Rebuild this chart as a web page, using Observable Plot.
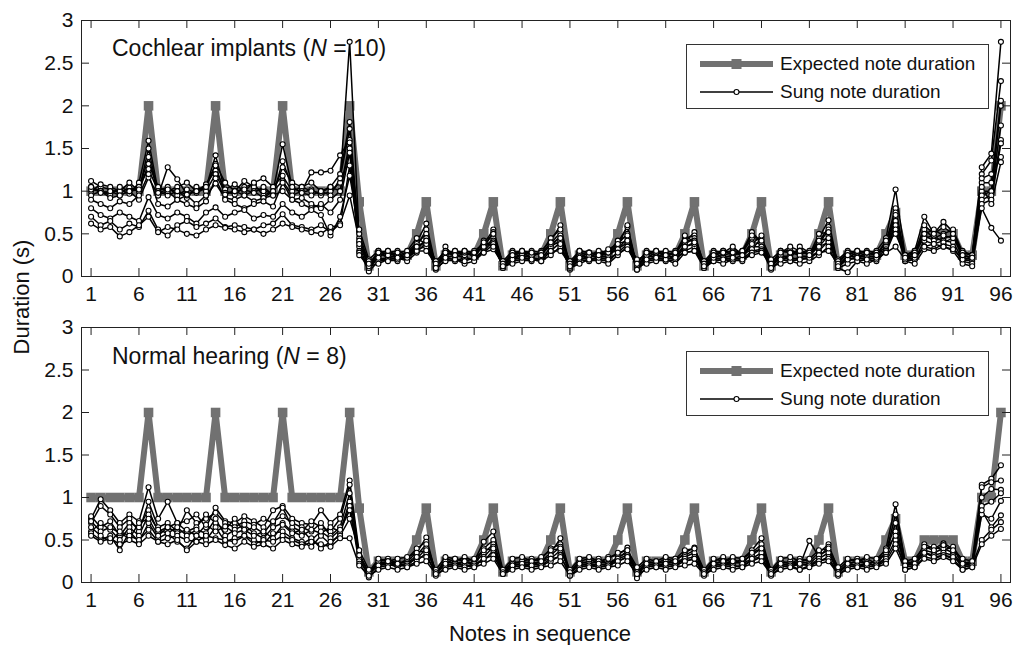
<!DOCTYPE html>
<html><head><meta charset="utf-8">
<script src="https://cdn.jsdelivr.net/npm/d3@7"></script>
<script src="https://cdn.jsdelivr.net/npm/@observablehq/plot@0.6"></script>
<style>
body{margin:0;background:#fff;font-family:"Liberation Sans",Arial,sans-serif;color:#111;}
#wrap{position:relative;width:1014px;height:645px;overflow:hidden;}
.panel{position:absolute;left:0;}
.lbl{position:absolute;font-size:23px;line-height:26px;white-space:nowrap;}
.legend{position:absolute;border:1px solid #333;background:#fff;box-sizing:border-box;}
.legend .row{position:absolute;left:13px;height:20px;display:flex;align-items:center;font-size:19px;white-space:nowrap;}
.legend svg{margin-right:7px;}
</style>
</head><body>
<div id="wrap"></div>
<script>
// ---------------- data ----------------
const notes = d3.range(1, 97);
const xTicks = [1,6,11,16,21,26,31,36,41,46,51,56,61,66,71,76,81,86,91,96];
const yTicks = [0,0.5,1,1.5,2,2.5,3];

const expected = [1,1,1,1,1,1,2,1,1,1,1,1,1,2,1,1,1,1,1,1,2,1,1,1,1,1,1,2,0.875,0.125,
0.25,0.25,0.25,0.25,0.5,0.875,0.125,
0.25,0.25,0.25,0.25,0.5,0.875,0.125,
0.25,0.25,0.25,0.25,0.5,0.875,0.125,
0.25,0.25,0.25,0.25,0.5,0.875,0.125,
0.25,0.25,0.25,0.25,0.5,0.875,0.125,
0.25,0.25,0.25,0.25,0.5,0.875,0.125,
0.25,0.25,0.25,0.25,0.5,0.875,0.125,
0.25,0.25,0.25,0.25,0.5,0.75,0.25,0.25,0.5,0.5,0.5,0.5,0.25,0.25,
1,1,2];

// Cochlear implant participants (N = 10)
const ci1 = [1.05,1.00,0.98,1.02,0.97,1.10,1.59,1.00,1.05,0.95,1.02,0.98,1.04,1.42,1.00,0.96,1.05,1.08,0.95,1.00,1.55,1.05,0.98,1.02,0.95,1.00,1.10,2.75,0.45,0.12,
0.30,0.25,0.22,0.28,0.40,0.62,0.12, 0.28,0.25,0.30,0.22,0.38,0.55,0.15, 0.25,0.28,0.22,0.30,0.42,0.60,0.12, 0.25,0.22,0.28,0.25,0.40,0.58,0.10,
0.28,0.25,0.22,0.30,0.40,0.52,0.12, 0.25,0.30,0.25,0.28,0.45,0.42,0.15, 0.28,0.32,0.25,0.22,0.45,0.66,0.12,
0.22,0.28,0.25,0.30,0.45,1.02,0.25,0.30,0.70,0.50,0.64,0.52,0.25,0.22, 1.28,1.44,2.75];
const ci2 = [1.12,1.05,1.02,0.98,1.04,1.00,1.50,0.95,1.28,1.14,0.96,1.00,1.06,1.32,1.10,1.00,1.12,1.05,1.00,0.98,1.28,1.10,1.05,1.00,0.98,1.05,1.20,1.81,0.40,0.10,
0.22,0.30,0.25,0.20,0.35,0.55,0.10, 0.35,0.22,0.28,0.25,0.42,0.48,0.12, 0.22,0.25,0.28,0.25,0.38,0.52,0.15, 0.28,0.25,0.22,0.30,0.35,0.60,0.12,
0.25,0.22,0.28,0.25,0.45,0.48,0.15, 0.28,0.22,0.25,0.30,0.52,0.40,0.12, 0.25,0.22,0.35,0.28,0.40,0.58,0.10,
0.25,0.22,0.28,0.25,0.40,0.80,0.22,0.28,0.55,0.45,0.50,0.55,0.28,0.25, 1.20,1.36,2.29];
const ci3 = [1.00,1.08,1.05,1.00,1.10,1.00,1.32,1.05,1.00,1.05,1.10,1.00,1.08,1.24,1.02,1.08,1.00,1.10,1.15,1.05,1.18,1.00,1.05,1.10,1.00,0.95,1.15,1.73,0.35,0.08,
0.25,0.28,0.30,0.25,0.38,0.50,0.15, 0.25,0.30,0.25,0.28,0.35,0.52,0.12, 0.28,0.22,0.25,0.28,0.45,0.55,0.10, 0.22,0.28,0.25,0.22,0.38,0.50,0.15,
0.22,0.28,0.25,0.22,0.38,0.45,0.10, 0.22,0.25,0.28,0.25,0.40,0.38,0.12, 0.22,0.25,0.30,0.25,0.38,0.55,0.15,
0.28,0.25,0.22,0.25,0.35,0.75,0.20,0.25,0.48,0.42,0.45,0.48,0.22,0.20, 1.10,1.10,2.06];
const ci4 = [1.02,1.00,0.95,1.05,1.00,1.05,1.26,1.00,0.95,1.00,0.92,1.05,1.00,1.20,0.98,1.00,0.95,1.00,0.92,1.00,1.12,0.95,1.00,1.22,1.22,1.24,1.42,1.60,0.50,0.15,
0.20,0.22,0.25,0.22,0.30,0.45,0.12, 0.22,0.25,0.22,0.20,0.32,0.45,0.10, 0.20,0.25,0.22,0.20,0.35,0.48,0.12, 0.25,0.20,0.22,0.25,0.32,0.45,0.10,
0.20,0.22,0.25,0.20,0.35,0.40,0.12, 0.20,0.22,0.20,0.25,0.35,0.35,0.10, 0.25,0.20,0.22,0.25,0.35,0.48,0.12,
0.20,0.22,0.25,0.22,0.32,0.70,0.22,0.20,0.42,0.38,0.42,0.40,0.20,0.18, 1.00,1.00,2.00];
const ci5 = [0.95,1.00,0.92,0.95,1.00,0.90,1.16,0.95,1.00,0.90,0.95,0.85,0.95,1.09,0.92,0.90,0.95,0.88,0.92,0.95,1.00,0.90,0.92,0.85,0.80,0.90,1.00,1.57,0.30,0.06,
0.18,0.20,0.22,0.18,0.28,0.40,0.08, 0.20,0.18,0.22,0.20,0.30,0.42,0.10, 0.18,0.20,0.18,0.22,0.30,0.40,0.08, 0.20,0.18,0.20,0.18,0.28,0.38,0.08,
0.18,0.20,0.18,0.20,0.30,0.35,0.10, 0.18,0.20,0.18,0.20,0.30,0.32,0.08, 0.20,0.18,0.20,0.22,0.30,0.42,0.10,
0.05,0.18,0.20,0.18,0.30,0.65,0.18,0.20,0.35,0.32,0.38,0.35,0.18,0.15, 0.95,1.00,1.77];
const ci6 = [1.05,0.98,1.00,0.95,1.00,1.02,1.40,0.98,1.02,1.00,0.96,1.00,1.05,1.30,0.96,1.00,1.02,0.98,1.05,0.95,1.35,1.05,0.98,0.95,1.00,1.05,1.00,1.50,0.28,0.10,
0.28,0.22,0.25,0.28,0.35,0.40,0.18, 0.30,0.28,0.25,0.30,0.38,0.40,0.18, 0.30,0.25,0.30,0.28,0.35,0.42,0.18, 0.30,0.28,0.25,0.28,0.32,0.40,0.20,
0.25,0.30,0.28,0.25,0.35,0.38,0.18, 0.30,0.28,0.30,0.25,0.32,0.45,0.20, 0.30,0.28,0.25,0.30,0.35,0.40,0.20,
0.30,0.28,0.30,0.28,0.30,0.60,0.25,0.30,0.45,0.48,0.40,0.45,0.30,0.25, 0.90,0.95,1.60];
const ci7 = [0.90,0.85,0.80,0.88,0.85,0.95,1.20,0.85,0.82,0.90,0.85,0.80,0.88,1.15,0.90,0.85,0.80,0.85,0.88,0.82,1.10,0.90,0.85,0.80,0.85,0.75,0.90,1.45,0.25,0.12,
0.15,0.20,0.18,0.25,0.32,0.35,0.10, 0.18,0.20,0.15,0.18,0.28,0.38,0.12, 0.15,0.18,0.20,0.18,0.25,0.35,0.10, 0.15,0.20,0.18,0.15,0.25,0.35,0.12,
0.15,0.18,0.20,0.15,0.28,0.30,0.10, 0.18,0.15,0.20,0.18,0.28,0.30,0.12, 0.15,0.18,0.15,0.18,0.25,0.35,0.10,
0.15,0.18,0.15,0.20,0.28,0.55,0.18,0.15,0.32,0.30,0.35,0.30,0.15,0.12, 0.85,0.90,1.56];
const ci8 = [0.80,0.72,0.68,0.75,0.70,0.65,0.93,0.72,0.68,0.75,0.70,0.62,0.75,0.81,0.70,0.75,0.78,0.68,0.72,0.70,0.85,0.75,0.70,0.78,0.72,0.48,0.70,1.18,0.55,0.20,
0.30,0.25,0.28,0.30,0.45,0.38,0.12, 0.25,0.30,0.28,0.25,0.35,0.50,0.15, 0.28,0.30,0.25,0.28,0.38,0.45,0.15, 0.28,0.25,0.30,0.28,0.42,0.48,0.15,
0.30,0.28,0.30,0.28,0.42,0.42,0.15, 0.28,0.30,0.28,0.30,0.48,0.42,0.15, 0.30,0.28,0.30,0.28,0.42,0.45,0.18,
0.28,0.30,0.28,0.25,0.40,0.50,0.25,0.28,0.50,0.55,0.48,0.45,0.28,0.25, 1.05,0.85,1.34];
const ci9 = [0.70,0.60,0.65,0.55,0.62,0.58,0.77,0.55,0.48,0.60,0.65,0.58,0.62,0.68,0.58,0.60,0.58,0.55,0.60,0.62,0.73,0.60,0.58,0.55,0.60,0.52,0.62,0.95,0.42,0.18,
0.22,0.18,0.20,0.22,0.30,0.30,0.15, 0.22,0.20,0.18,0.22,0.28,0.32,0.15, 0.20,0.22,0.20,0.18,0.30,0.30,0.15, 0.22,0.20,0.22,0.20,0.28,0.32,0.15,
0.20,0.22,0.20,0.22,0.28,0.30,0.15, 0.22,0.20,0.22,0.20,0.25,0.28,0.15, 0.20,0.22,0.20,0.22,0.28,0.30,0.15,
0.20,0.22,0.20,0.22,0.28,0.35,0.20,0.22,0.35,0.38,0.35,0.32,0.20,0.22, 0.80,0.57,0.42];
const ci10 = [0.62,0.55,0.58,0.47,0.52,0.60,0.70,0.52,0.58,0.55,0.50,0.48,0.55,0.60,0.57,0.55,0.52,0.55,0.50,0.55,0.62,0.58,0.55,0.52,0.50,0.58,0.60,1.30,0.38,0.15,
0.28,0.30,0.22,0.25,0.35,0.42,0.10, 0.28,0.25,0.30,0.28,0.40,0.35,0.12, 0.25,0.30,0.28,0.25,0.40,0.38,0.12, 0.30,0.28,0.25,0.32,0.38,0.42,0.08,
0.28,0.30,0.25,0.28,0.48,0.40,0.12, 0.25,0.28,0.35,0.25,0.38,0.48,0.10, 0.28,0.35,0.30,0.25,0.50,0.52,0.12,
0.25,0.30,0.28,0.25,0.42,0.72,0.22,0.25,0.60,0.50,0.58,0.50,0.25,0.22, 1.15,1.20,1.40];

// Normal hearing participants (N = 8)
const nh1 = [0.75,0.98,0.85,0.70,0.80,0.72,1.12,0.75,0.95,0.70,0.72,0.80,0.65,0.88,0.72,0.70,0.78,0.72,0.65,0.85,0.90,0.75,0.70,0.68,0.85,0.70,0.80,1.20,0.35,0.10,
0.25,0.28,0.22,0.25,0.35,0.53,0.10, 0.28,0.25,0.30,0.25,0.48,0.60,0.15, 0.22,0.25,0.28,0.25,0.35,0.52,0.12, 0.25,0.28,0.22,0.30,0.32,0.41,0.10,
0.25,0.22,0.28,0.25,0.35,0.41,0.12, 0.25,0.30,0.22,0.28,0.38,0.52,0.12, 0.25,0.22,0.28,0.25,0.35,0.45,0.15,
0.25,0.28,0.22,0.25,0.40,0.92,0.22,0.25,0.45,0.40,0.46,0.40,0.22,0.25, 1.15,1.22,1.38];
const nh2 = [0.70,0.90,0.80,0.65,0.75,0.60,0.95,0.65,0.70,0.60,0.85,0.70,0.75,0.82,0.70,0.65,0.72,0.68,0.75,0.70,0.88,0.65,0.60,0.72,0.65,0.60,0.75,1.15,0.30,0.12,
0.22,0.25,0.20,0.28,0.40,0.48,0.12, 0.22,0.28,0.25,0.22,0.40,0.50,0.12, 0.25,0.22,0.25,0.28,0.40,0.45,0.10, 0.22,0.25,0.28,0.22,0.28,0.38,0.08,
0.22,0.25,0.22,0.28,0.32,0.38,0.10, 0.22,0.25,0.28,0.22,0.35,0.45,0.15, 0.22,0.25,0.20,0.49,0.30,0.42,0.12,
0.22,0.25,0.28,0.22,0.35,0.80,0.25,0.22,0.40,0.42,0.38,0.42,0.25,0.20, 1.12,1.18,1.20];
const nh3 = [0.78,0.65,0.72,0.55,0.70,0.65,0.85,0.60,0.65,0.70,0.60,0.65,0.80,0.70,0.62,0.75,0.60,0.65,0.58,0.72,0.78,0.70,0.65,0.60,0.70,0.55,0.65,1.05,0.28,0.08,
0.25,0.22,0.25,0.22,0.32,0.45,0.10, 0.25,0.22,0.25,0.22,0.35,0.45,0.10, 0.22,0.25,0.22,0.25,0.32,0.42,0.12, 0.25,0.22,0.25,0.22,0.30,0.35,0.15,
0.25,0.22,0.25,0.22,0.30,0.35,0.12, 0.22,0.25,0.22,0.25,0.32,0.40,0.10, 0.25,0.22,0.25,0.22,0.32,0.38,0.10,
0.22,0.25,0.22,0.25,0.35,0.70,0.20,0.25,0.38,0.35,0.40,0.35,0.20,0.22, 1.00,1.10,1.09];
const nh4 = [0.60,0.70,0.62,0.50,0.65,0.55,0.80,0.62,0.58,0.65,0.55,0.62,0.58,0.75,0.55,0.62,0.68,0.58,0.52,0.65,0.70,0.60,0.55,0.62,0.58,0.65,0.60,0.95,0.25,0.10,
0.20,0.22,0.18,0.22,0.28,0.40,0.12, 0.20,0.22,0.20,0.18,0.30,0.42,0.12, 0.20,0.18,0.22,0.20,0.28,0.38,0.12, 0.20,0.22,0.18,0.20,0.28,0.32,0.12,
0.20,0.18,0.22,0.20,0.28,0.30,0.12, 0.20,0.22,0.20,0.18,0.28,0.35,0.12, 0.20,0.18,0.22,0.20,0.28,0.35,0.12,
0.20,0.18,0.22,0.20,0.30,0.60,0.18,0.20,0.35,0.32,0.35,0.32,0.18,0.20, 0.90,0.95,1.05];
const nh5 = [0.58,0.50,0.55,0.38,0.60,0.48,0.70,0.52,0.58,0.48,0.40,0.55,0.50,0.65,0.48,0.52,0.55,0.50,0.45,0.58,0.60,0.52,0.48,0.42,0.55,0.45,0.58,0.90,0.22,0.06,
0.18,0.20,0.22,0.18,0.25,0.35,0.08, 0.18,0.20,0.18,0.22,0.25,0.38,0.10, 0.18,0.20,0.18,0.20,0.25,0.32,0.08, 0.18,0.20,0.18,0.20,0.25,0.30,0.05,
0.18,0.20,0.18,0.20,0.25,0.28,0.08, 0.18,0.20,0.18,0.20,0.25,0.30,0.08, 0.18,0.20,0.15,0.20,0.25,0.30,0.08,
0.18,0.20,0.18,0.20,0.28,0.50,0.15,0.18,0.30,0.28,0.32,0.28,0.15,0.18, 0.80,0.75,0.96];
const nh6 = [0.72,0.60,0.65,0.58,0.52,0.70,0.75,0.55,0.65,0.58,0.62,0.55,0.68,0.60,0.66,0.58,0.62,0.55,0.60,0.52,0.68,0.58,0.62,0.50,0.60,0.52,0.62,0.85,0.32,0.12,
0.28,0.25,0.28,0.30,0.35,0.38,0.15, 0.30,0.28,0.25,0.28,0.38,0.40,0.15, 0.28,0.30,0.25,0.30,0.38,0.40,0.15, 0.28,0.30,0.25,0.28,0.35,0.38,0.18,
0.28,0.25,0.30,0.28,0.38,0.40,0.15, 0.28,0.25,0.30,0.28,0.35,0.40,0.15, 0.28,0.30,0.25,0.28,0.38,0.40,0.18,
0.28,0.25,0.30,0.28,0.38,0.55,0.25,0.28,0.42,0.38,0.44,0.38,0.28,0.25, 0.85,0.65,0.79];
const nh7 = [0.65,0.55,0.48,0.60,0.55,0.50,0.62,0.48,0.52,0.55,0.50,0.48,0.55,0.52,0.50,0.48,0.55,0.45,0.50,0.48,0.55,0.50,0.45,0.52,0.40,0.48,0.55,0.75,0.38,0.15,
0.20,0.25,0.22,0.20,0.30,0.30,0.12, 0.22,0.20,0.25,0.20,0.28,0.32,0.12, 0.20,0.22,0.20,0.25,0.28,0.30,0.12, 0.22,0.20,0.22,0.20,0.25,0.30,0.12,
0.22,0.20,0.22,0.25,0.25,0.28,0.12, 0.22,0.20,0.25,0.22,0.28,0.30,0.12, 0.22,0.20,0.22,0.20,0.25,0.28,0.12,
0.22,0.20,0.22,0.20,0.25,0.45,0.20,0.22,0.35,0.30,0.32,0.30,0.22,0.20, 0.50,0.62,0.71];
const nh8 = [0.55,0.48,0.52,0.45,0.50,0.45,0.55,0.48,0.45,0.50,0.38,0.48,0.45,0.50,0.44,0.40,0.48,0.42,0.45,0.40,0.50,0.45,0.42,0.48,0.45,0.42,0.52,0.52,0.20,0.08,
0.15,0.18,0.15,0.18,0.22,0.25,0.10, 0.15,0.18,0.15,0.18,0.22,0.28,0.10, 0.15,0.18,0.15,0.18,0.20,0.25,0.08, 0.15,0.18,0.15,0.18,0.20,0.25,0.10,
0.15,0.18,0.15,0.18,0.20,0.22,0.10, 0.15,0.18,0.15,0.18,0.22,0.25,0.10, 0.15,0.18,0.15,0.18,0.22,0.25,0.10,
0.15,0.18,0.15,0.18,0.22,0.40,0.15,0.18,0.28,0.25,0.30,0.25,0.15,0.18, 0.45,0.55,0.63];

const ciSeries = [ci1,ci2,ci3,ci4,ci5,ci6,ci7,ci8,ci9,ci10];
const nhSeries = [nh1,nh2,nh3,nh4,nh5,nh6,nh7,nh8];

// ---------------- build ----------------
const xDomain = [0, 97], yDomain = [0, 3];
const grey = "#717171", axisColor = "#222";
const expRows = notes.map((n, i) => ({note: n, dur: expected[i]}));
function tidy(series) {
  return series.flatMap((arr, k) => notes.map((n, i) => ({note: n, dur: arr[i], subject: k})));
}
function panel(sung, height, marginTop, marginBottom) {
  return Plot.plot({
    width: 1014, height, marginTop, marginBottom, marginLeft: 81, marginRight: 4,
    style: {fontFamily: "'Liberation Sans', Arial, sans-serif", fontSize: "21px", color: "#111", background: "transparent", overflow: "visible"},
    x: {domain: xDomain, ticks: xTicks, tickSize: 0, tickPadding: 10, tickFormat: d => String(d), label: null},
    y: {domain: yDomain, ticks: yTicks, tickSize: 0, tickPadding: 8, tickFormat: d => String(d), label: null},
    marks: [
      Plot.line(expRows, {x: "note", y: "dur", stroke: grey, strokeWidth: 6}),
      Plot.dot(expRows, {x: "note", y: "dur", symbol: "square", r: 5.4, fill: grey, stroke: "none"}),
      Plot.line(sung, {x: "note", y: "dur", z: "subject", stroke: "#000", strokeWidth: 1.5}),
      Plot.dot(sung, {x: "note", y: "dur", r: 2.5, stroke: "#000", fill: "#fff", strokeWidth: 1.1}),
      Plot.ruleX(xTicks, {x: d => d, y1: () => yDomain[0], y2: () => yDomain[0], insetTop: -8, stroke: axisColor}),
      Plot.ruleX(xTicks, {x: d => d, y1: () => yDomain[1], y2: () => yDomain[1], insetBottom: -8, stroke: axisColor}),
      Plot.ruleY(yTicks, {y: d => d, x1: () => xDomain[0], x2: () => xDomain[0], insetRight: -8, stroke: axisColor}),
      Plot.ruleY(yTicks, {y: d => d, x1: () => xDomain[1], x2: () => xDomain[1], insetLeft: -8, stroke: axisColor}),
      Plot.frame({stroke: axisColor, strokeWidth: 1})
    ]
  });
}

const wrap = document.getElementById("wrap");
const topPlot = panel(tidy(ciSeries), 310, 20, 34);
topPlot.classList.add("panel"); topPlot.style.top = "0px";
const botPlot = panel(tidy(nhSeries), 335, 17, 63);
botPlot.classList.add("panel"); botPlot.style.top = "310px";
wrap.appendChild(topPlot); wrap.appendChild(botPlot);

function legendSample(kind) {
  const ns = "http://www.w3.org/2000/svg";
  const s = document.createElementNS(ns, "svg");
  s.setAttribute("width", 73); s.setAttribute("height", 20);
  const l = document.createElementNS(ns, "line");
  l.setAttribute("x1", 0); l.setAttribute("x2", 73); l.setAttribute("y1", 10); l.setAttribute("y2", 10);
  if (kind === "exp") {
    l.setAttribute("stroke", grey); l.setAttribute("stroke-width", 6); s.appendChild(l);
    const r = document.createElementNS(ns, "rect");
    r.setAttribute("x", 31.5); r.setAttribute("y", 5); r.setAttribute("width", 10); r.setAttribute("height", 10);
    r.setAttribute("fill", grey); s.appendChild(r);
  } else {
    l.setAttribute("stroke", "#000"); l.setAttribute("stroke-width", 1.5); s.appendChild(l);
    const c = document.createElementNS(ns, "circle");
    c.setAttribute("cx", 36.5); c.setAttribute("cy", 10); c.setAttribute("r", 2.5);
    c.setAttribute("fill", "#fff"); c.setAttribute("stroke", "#000"); c.setAttribute("stroke-width", 1.1); s.appendChild(c);
  }
  return s;
}
function addLegend(topPx) {
  const box = document.createElement("div");
  box.className = "legend";
  Object.assign(box.style, {left: "686px", top: topPx + "px", width: "303px", height: "65px"});
  [["exp", "Expected note duration", 9], ["sung", "Sung note duration", 37]].forEach(([k, t, y]) => {
    const row = document.createElement("div");
    row.className = "row"; row.style.top = y + "px";
    row.appendChild(legendSample(k));
    const span = document.createElement("span"); span.textContent = t;
    row.appendChild(span);
    box.appendChild(row);
  });
  wrap.appendChild(box);
}
addLegend(44);
addLegend(351);

function addLabel(html, css) {
  const d = document.createElement("div");
  d.className = "lbl"; d.innerHTML = html;
  Object.assign(d.style, css);
  wrap.appendChild(d);
}
addLabel("Cochlear implants (<i>N</i> = 10)", {left: "112px", top: "35px"});
addLabel("Normal hearing (<i>N</i> = 8)", {left: "112px", top: "343px"});
addLabel("Notes in sequence", {left: "0px", width: "1080px", textAlign: "center", top: "621px", fontSize: "22px"});
addLabel("Duration (s)", {left: "-58px", width: "160px", textAlign: "center", top: "284px", fontSize: "22px", transform: "rotate(-90deg)"});
</script>
</body></html>
